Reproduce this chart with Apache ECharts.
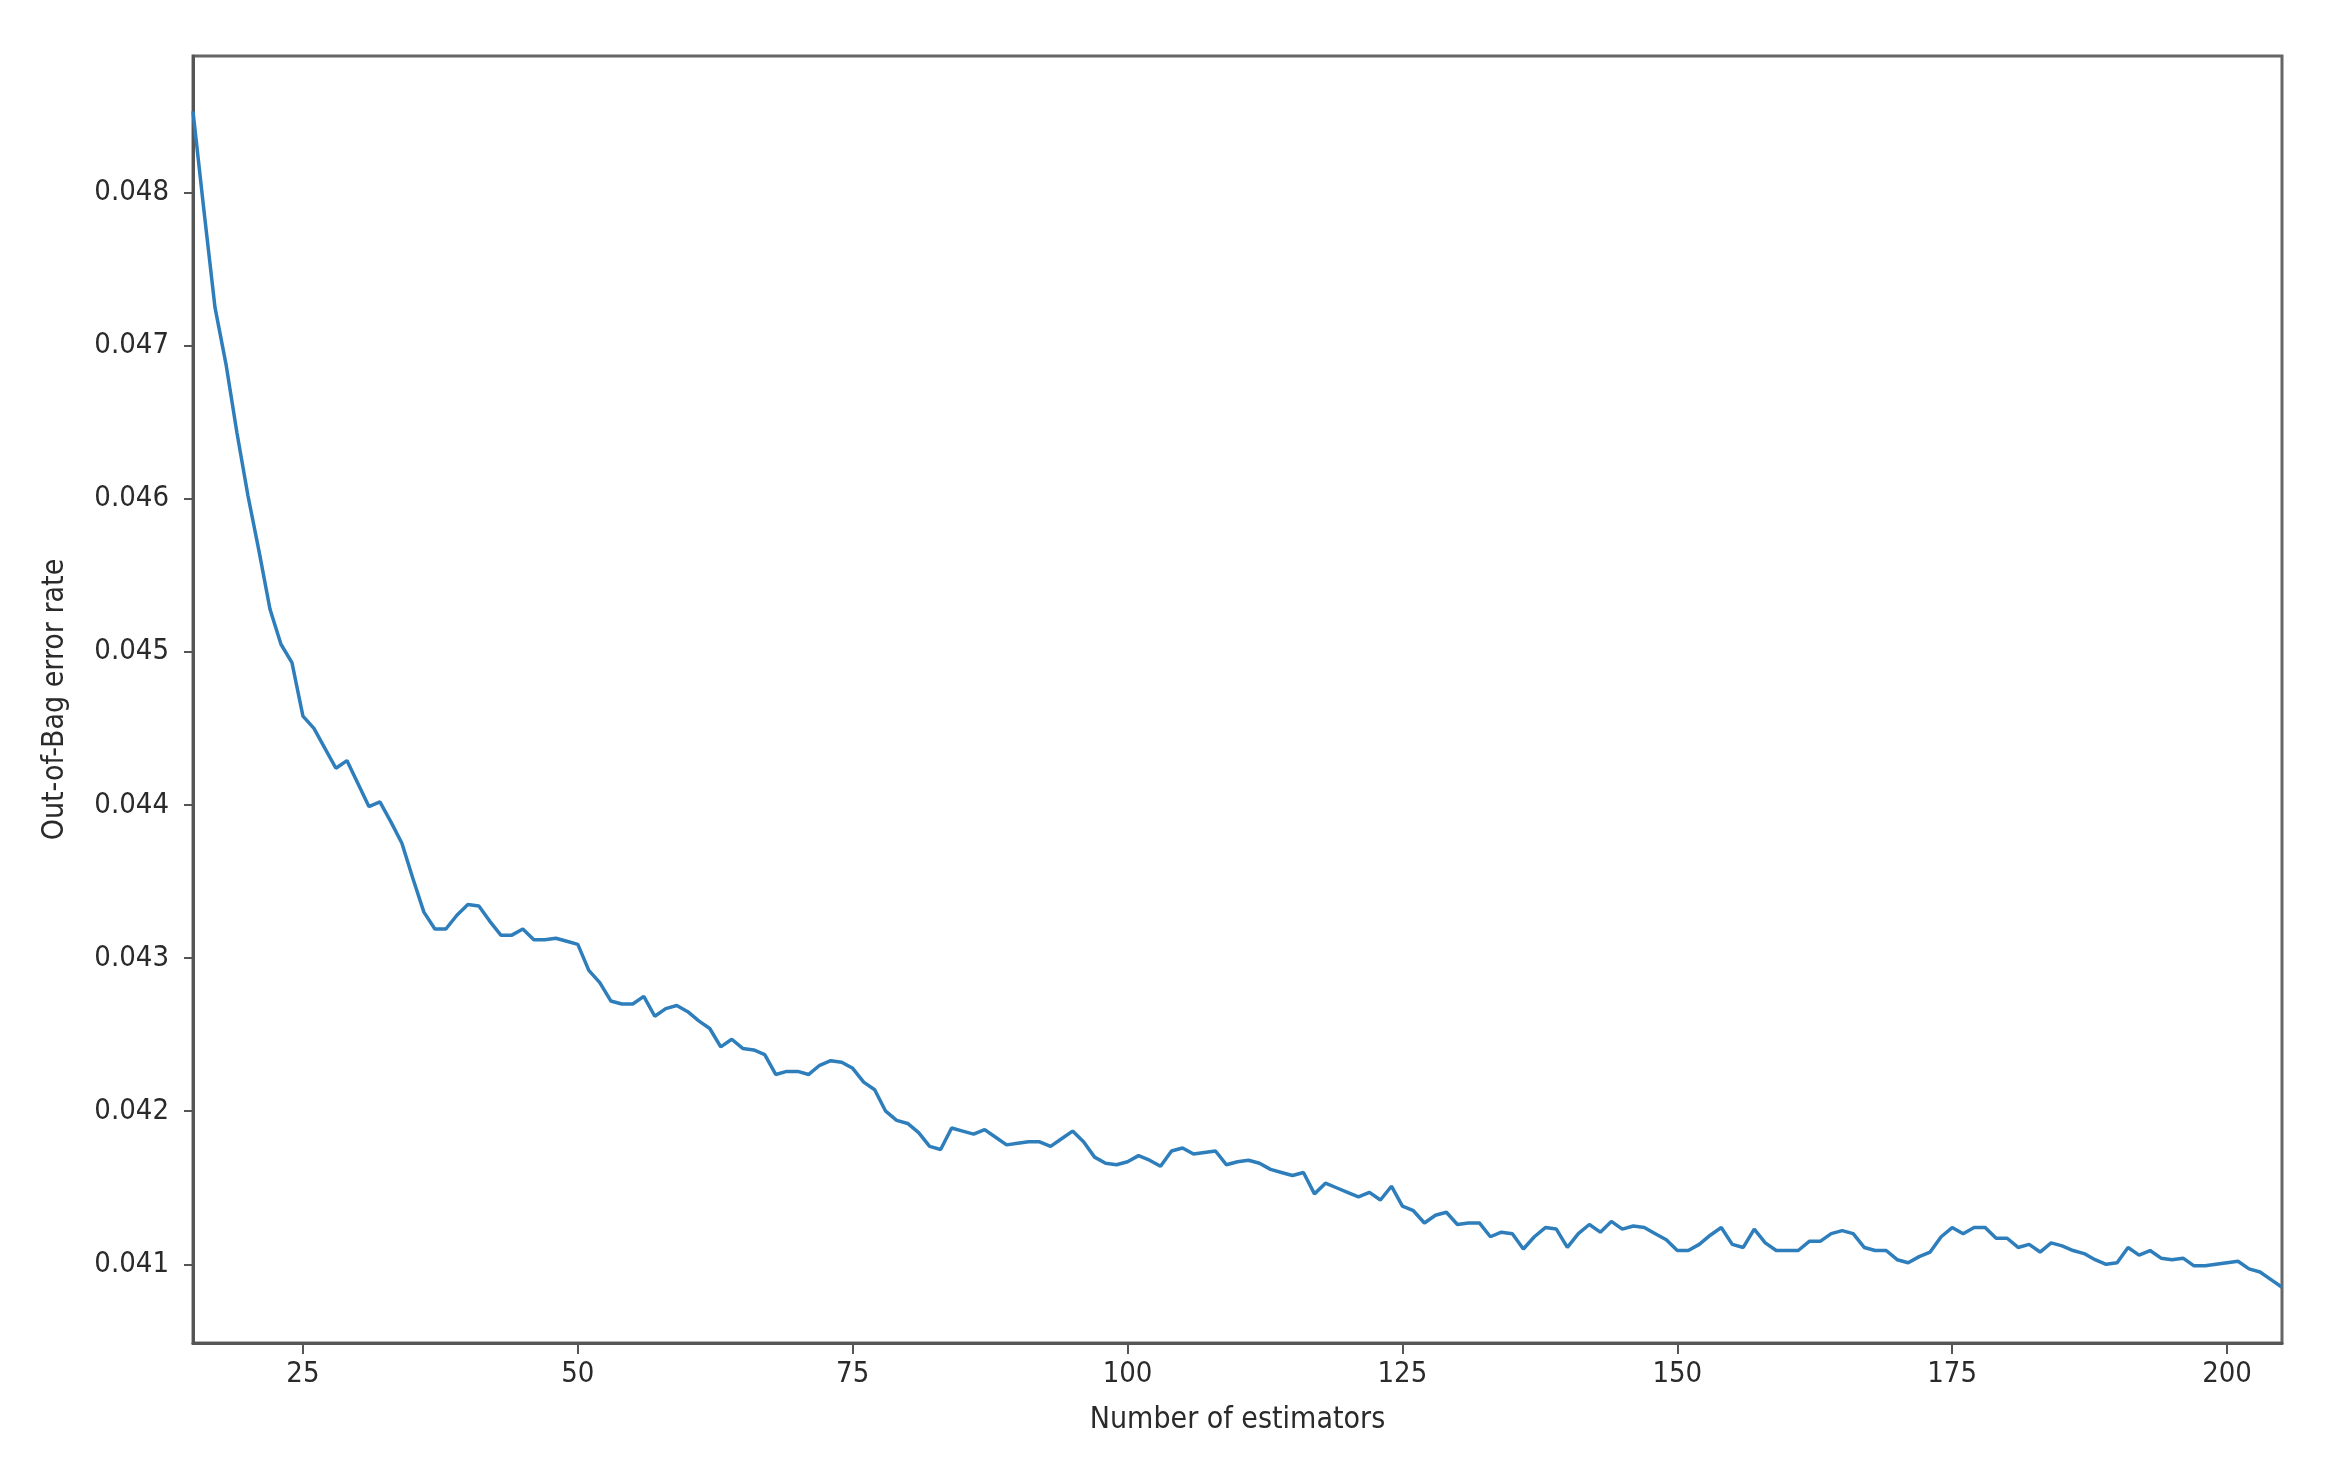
<!DOCTYPE html>
<html>
<head>
<meta charset="utf-8">
<script src="https://cdn.jsdelivr.net/npm/echarts@6/dist/echarts.min.js"></script>
<style>
  html, body { margin: 0; padding: 0; background: #fff; }
  #chart { width: 2326px; height: 1474px; }
</style>
</head>
<body>
<div id="chart"></div>
<script>
// OOB error for n_estimators = 15 .. 205
var minEstimators = 15;
var errorRate = [
  0.04853, 0.04788, 0.04725, 0.04688, 0.04643, 0.04602, 0.04566, 0.04528, 0.04505, 0.04493,
  0.04458, 0.04450, 0.04437, 0.04424, 0.04429, 0.04414, 0.04399, 0.04402, 0.04389, 0.04375,
  0.04352, 0.04330, 0.04319, 0.04319, 0.04328, 0.04335, 0.04334, 0.04324, 0.04315, 0.04315,
  0.04319, 0.04312, 0.04312, 0.04313, 0.04311, 0.04309, 0.04292, 0.04284, 0.04272, 0.04270,
  0.04270, 0.04275, 0.04262, 0.04267, 0.04269, 0.04265, 0.04259, 0.04254, 0.04242, 0.04247,
  0.04241, 0.04240, 0.04237, 0.04224, 0.04226, 0.04226, 0.04224, 0.04230, 0.04233, 0.04232,
  0.04228, 0.04219, 0.04214, 0.04200, 0.04194, 0.04192, 0.04186, 0.04177, 0.04175, 0.04189,
  0.04187, 0.04185, 0.04188, 0.04183, 0.04178, 0.04179, 0.04180, 0.04180, 0.04177, 0.04182,
  0.04187, 0.04180, 0.04170, 0.04166, 0.04165, 0.04167, 0.04171, 0.04168, 0.04164, 0.04174,
  0.04176, 0.04172, 0.04173, 0.04174, 0.04165, 0.04167, 0.04168, 0.04166, 0.04162, 0.04160,
  0.04158, 0.04160, 0.04146, 0.04153, 0.04150, 0.04147, 0.04144, 0.04147, 0.04142, 0.04151,
  0.04138, 0.04135, 0.04127, 0.04132, 0.04134, 0.04126, 0.04127, 0.04127, 0.04118, 0.04121,
  0.04120, 0.04110, 0.04118, 0.04124, 0.04123, 0.04111, 0.04120, 0.04126, 0.04121, 0.04128,
  0.04123, 0.04125, 0.04124, 0.04120, 0.04116, 0.04109, 0.04109, 0.04113, 0.04119, 0.04124,
  0.04113, 0.04111, 0.04123, 0.04114, 0.04109, 0.04109, 0.04109, 0.04115, 0.04115, 0.04120,
  0.04122, 0.04120, 0.04111, 0.04109, 0.04109, 0.04103, 0.04101, 0.04105, 0.04108, 0.04118,
  0.04124, 0.04120, 0.04124, 0.04124, 0.04117, 0.04117, 0.04111, 0.04113, 0.04108, 0.04114,
  0.04112, 0.04109, 0.04107, 0.04103, 0.04100, 0.04101, 0.04111, 0.04106, 0.04109, 0.04104,
  0.04103, 0.04104, 0.04099, 0.04099, 0.04100, 0.04101, 0.04102, 0.04097, 0.04095, 0.04090,
  0.04085
];
var xTicks = [25, 50, 75, 100, 125, 150, 175, 200];
var yTicks = [0.041, 0.042, 0.043, 0.044, 0.045, 0.046, 0.047, 0.048];

var points = errorRate.map(function (v, i) { return [minEstimators + i, v]; });

var font = "'Liberation Sans Narrow', 'DejaVu Sans Condensed', 'Noto Sans', sans-serif";

var myChart = echarts.init(document.getElementById('chart'));

var option = {
  backgroundColor: '#ffffff',
  animation: false,
  grid: {
    left: 193, right: 44, top: 56, bottom: 131,
    show: true,
    borderColor: '#666666',
    borderWidth: 3
  },
  xAxis: {
    type: 'value',
    min: 15,
    max: 205,
    name: 'Number of estimators',
    nameLocation: 'middle',
    nameGap: 62,
    nameTextStyle: { fontFamily: font, fontSize: 30, color: '#2a2a2a' },
    axisLine: { lineStyle: { color: '#555555', width: 3 } },
    axisTick: { customValues: xTicks, length: 11, lineStyle: { color: '#555555', width: 2 } },
    axisLabel: { customValues: xTicks, margin: 17, fontFamily: font, fontSize: 29, color: '#2a2a2a' },
    splitLine: { show: false }
  },
  yAxis: {
    type: 'value',
    min: 0.040486,
    max: 0.048892,
    name: 'Out-of-Bag error rate',
    nameLocation: 'middle',
    nameRotate: 90,
    nameGap: 123,
    nameTextStyle: { fontFamily: font, fontSize: 30, color: '#2a2a2a' },
    axisLine: { lineStyle: { color: '#555555', width: 3 } },
    axisTick: { customValues: yTicks, length: 9, lineStyle: { color: '#555555', width: 2 } },
    axisLabel: {
      customValues: yTicks, margin: 24, fontFamily: font, fontSize: 29, color: '#2a2a2a',
      formatter: function (v) { return v.toFixed(3); }
    },
    splitLine: { show: false }
  },
  series: [
    {
      type: 'line',
      data: points,
      showSymbol: false,
      smooth: false,
      lineStyle: { color: '#2e7ebc', width: 3.5 },
      clip: true
    }
  ]
};

myChart.setOption(option);
</script>
</body>
</html>
